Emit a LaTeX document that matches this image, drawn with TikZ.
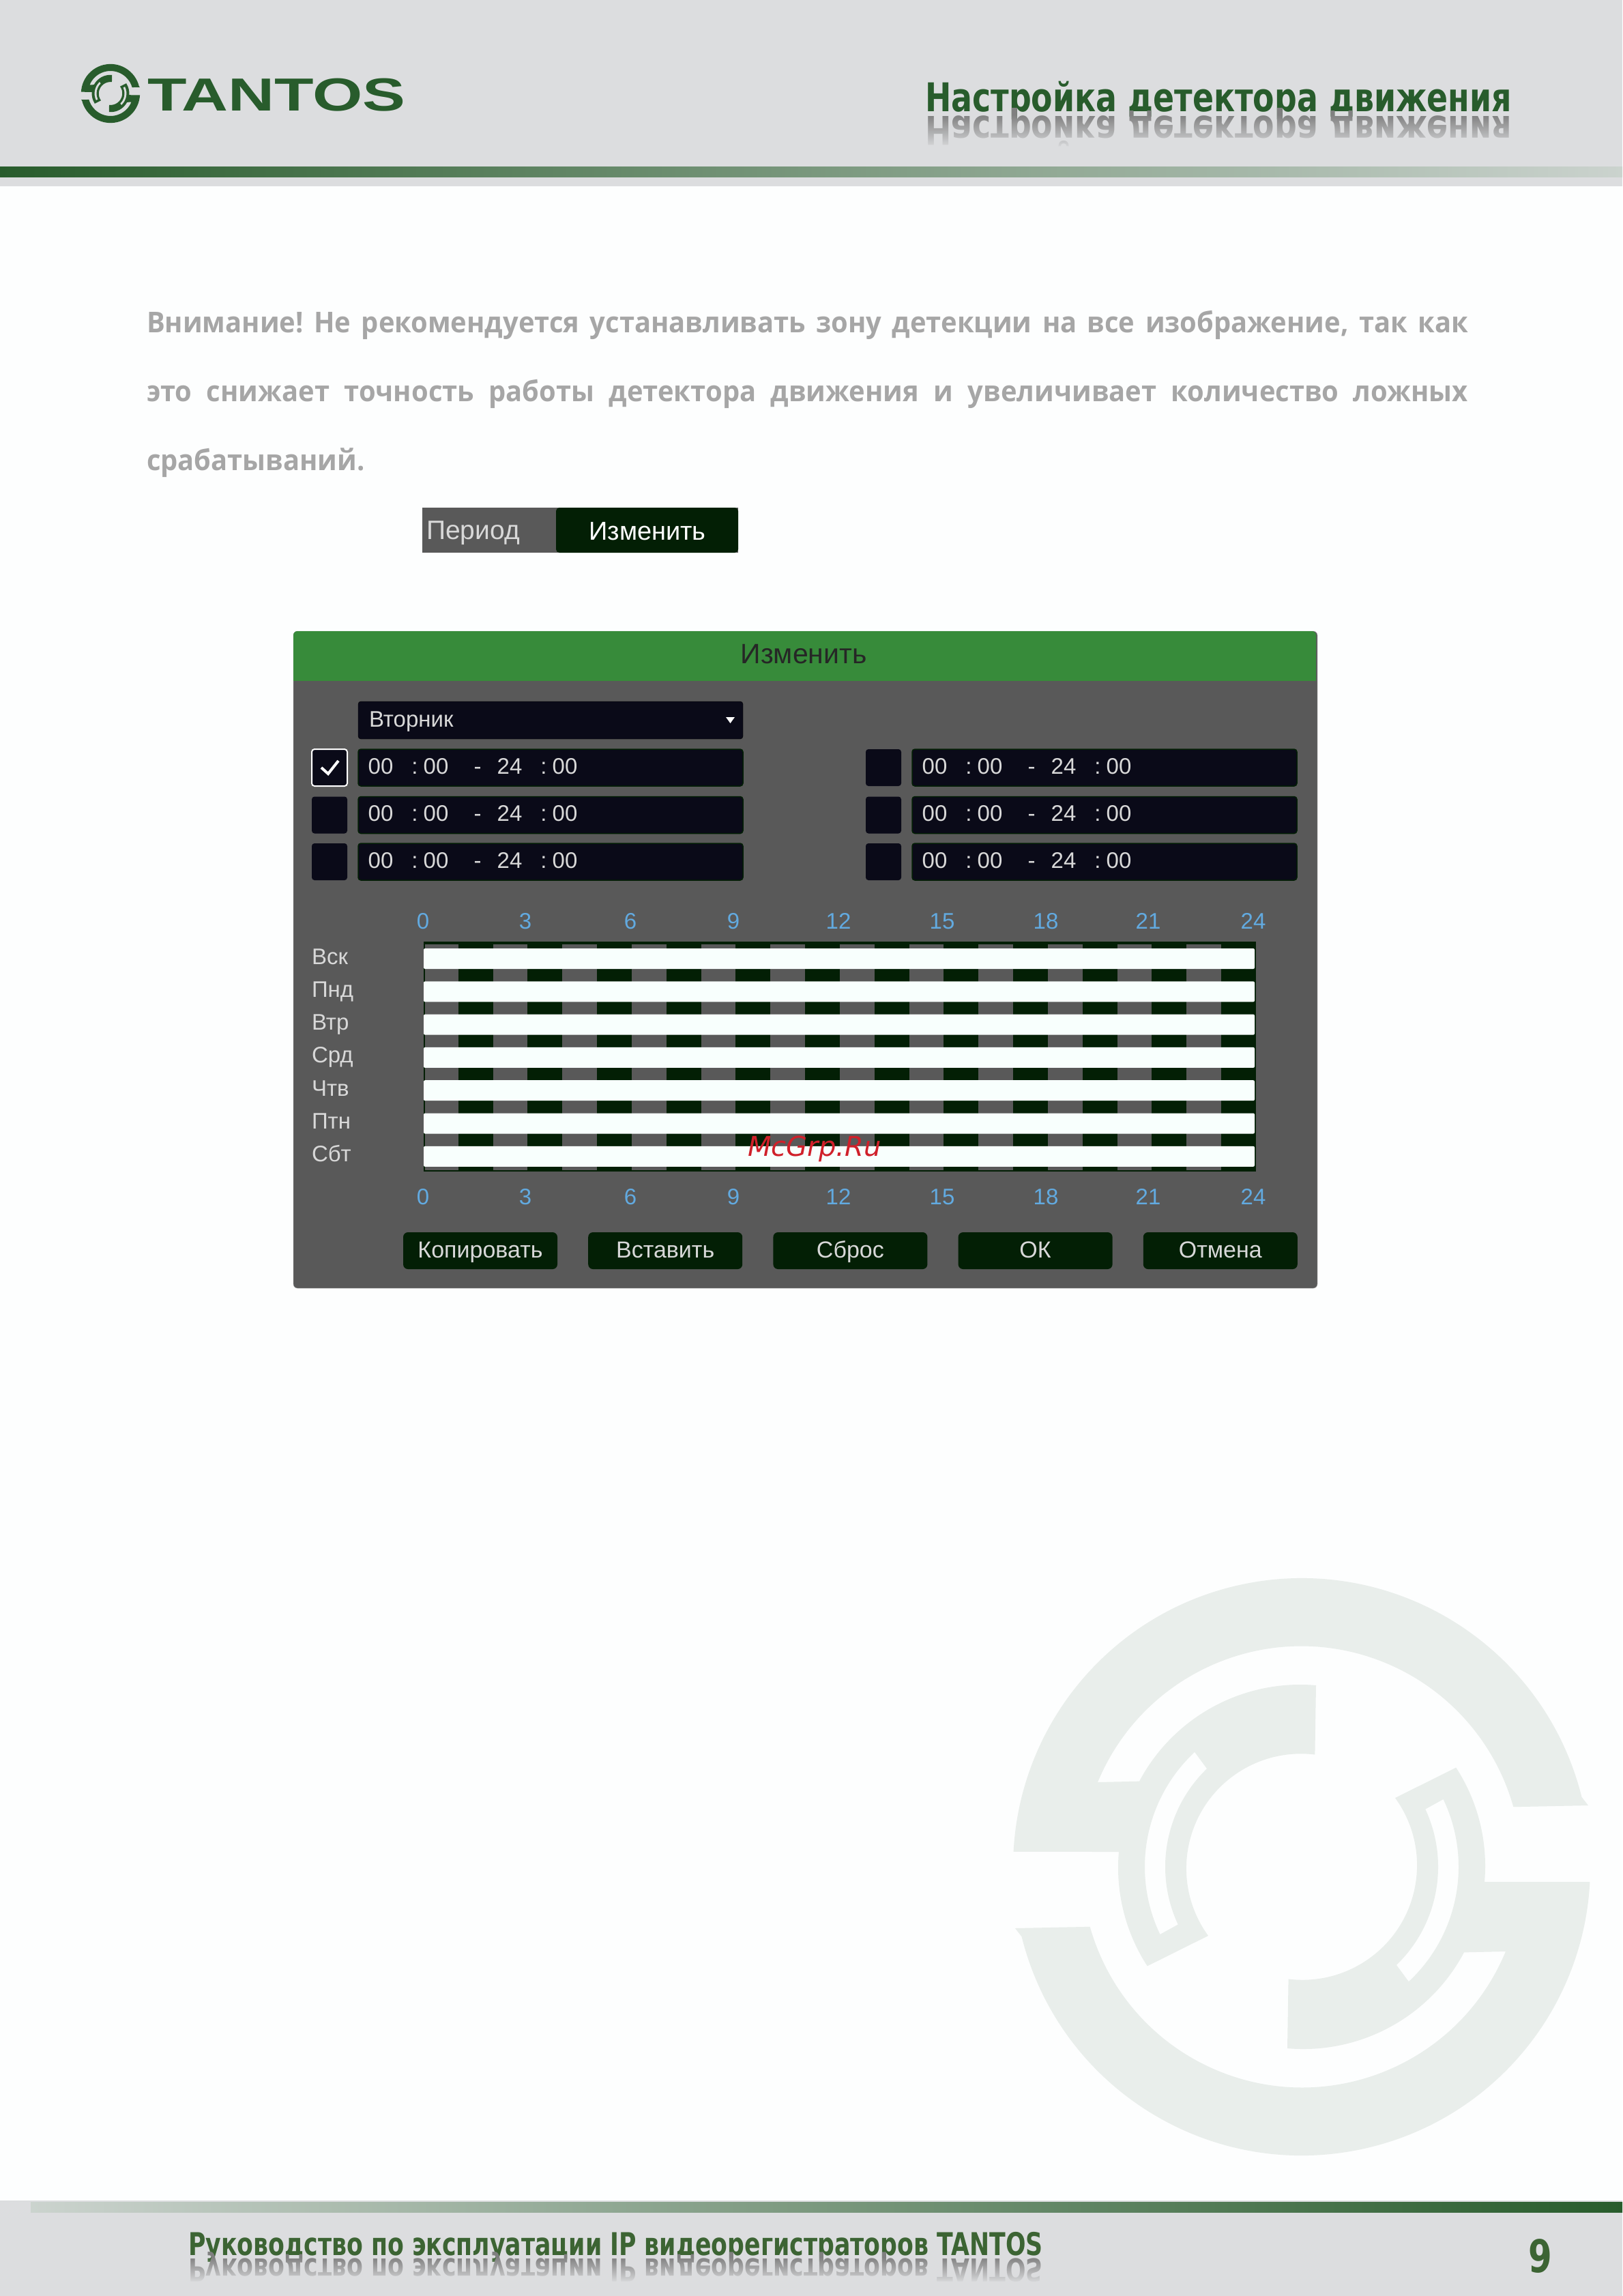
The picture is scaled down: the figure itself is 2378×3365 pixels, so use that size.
\documentclass[tikz,border=0pt]{standalone}
\usepackage{fontspec}
\setmainfont{Liberation Sans}
\newfontfamily\bodyfont[FakeStretch=0.95]{Open Sans}
\newfontfamily\titlefont[FakeStretch=0.79]{DejaVu Sans}
\newfontfamily\footfont[FakeStretch=0.755]{DejaVu Sans}
\newfontfamily\logofont[FakeStretch=1.385]{Liberation Sans}
\newfontfamily\wmfont{DejaVu Sans}
\usetikzlibrary{fadings}
\definecolor{headgray}{HTML}{DCDDDF}
\definecolor{pagewhite}{HTML}{FDFEFE}
\definecolor{logogreen}{HTML}{285C2C}
\definecolor{barpale}{HTML}{CBD3CE}
\definecolor{footgreen}{HTML}{3C6433}
\definecolor{markpale}{HTML}{E9EEEB}
\definecolor{bodygray}{HTML}{A6A6A6}
\definecolor{dlggray}{HTML}{595959}
\definecolor{dlggreen}{HTML}{378B3A}
\definecolor{fieldnavy}{HTML}{0A0A18}
\definecolor{darkgreen}{HTML}{031F05}
\definecolor{hourblue}{HTML}{62AAE0}
\definecolor{barwhite}{HTML}{F8FFFD}
\definecolor{uitext}{HTML}{D8D8D8}
\definecolor{wmred}{HTML}{D0202A}
\begin{document}
\begin{tikzpicture}[x=1pt,y=-1pt,inner sep=0pt,outer sep=0pt,
field/.style={draw=darkgreen,fill=fieldnavy,rounded corners=4pt,line width=1.5pt},
navybox/.style={fill=fieldnavy,rounded corners=4pt},
uilabel/.style={anchor=base,font=\fontsize{33}{33}\selectfont,text=uitext},
hourlabel/.style={anchor=base,font=\fontsize{33}{33}\selectfont,text=hourblue},
btn/.style={fill=darkgreen,rounded corners=7pt,minimum width=226pt,minimum height=54pt},
btnlabel/.style={anchor=base,font=\fontsize{34}{34}\selectfont,text=uitext},
pics/tantosmark/.style={code={
\foreach \r in {0,180} {
\fill[rotate=\r,even odd rule,pic actions] (420,-90) -- (-14:423) arc[start angle=-14,end angle=-177,radius=423]
 -- (-268,-22) arc[start angle=185,end angle=147,radius=265] -- (-137,101)
 arc[start angle=144,end angle=277,radius=168] -- (21,-266)
 arc[start angle=275,end angle=208,radius=267] -- (-299,-124)
 arc[start angle=202.5,end angle=344.3,radius=323] -- cycle
 (227:230) arc[start angle=227,end angle=154.5,radius=230] -- (155:200)
 arc[start angle=155,end angle=226,radius=200] -- cycle;
}}}]
\useasboundingbox (0,0) rectangle (2378,3365);
\fill[pagewhite] (0,0) rectangle (2378,3365);

% header
\fill[headgray] (0,0) rectangle (2378,273);
\shade[left color=logogreen,right color=barpale] (0,244) rectangle (2378,259);
\pic[fill=logogreen,scale=.102] at (162,137) {tantosmark={}};
\node[anchor=base west,font=\logofont\bfseries\fontsize{68}{68}\selectfont,text=logogreen] (logotext) at (216,162) {TANTOS};
\node[anchor=base west,font=\titlefont\bfseries\fontsize{58}{58}\selectfont,text=logogreen] (title) at (1356,163) {Настройка детектора движения};
\node[anchor=base west,font=\titlefont\bfseries\fontsize{58}{58}\selectfont,text=gray] (titlemirror) at (1356,170) {\scalebox{1}[-1]{Настройка детектора движения}};
\fill[headgray,path fading=north] (1340,168) rectangle (2300,218);

% warning text
\node[anchor=north west,text width=1937pt,align=justify,font=\bodyfont\bfseries\fontsize{42}{101}\selectfont,text=bodygray] (warning) at (215,455)
{\frenchspacing Внимание! Не рекомендуется устанавливать зону детекции на все изображение, так как\linebreak это снижает точность работы детектора движения и увеличивает количество ложных\linebreak срабатываний.};

% period row
\fill[dlggray] (619,744) rectangle (1082,810);
\fill[darkgreen,rounded corners=5pt] (815,744) rectangle (1082,810);
\node[anchor=base west,font=\fontsize{39}{39}\selectfont,text=uitext] (period) at (625,790) {Период};
\node[anchor=base,font=\fontsize{38}{38}\selectfont,text=white] (change) at (949,791) {Изменить};

% dialog
\fill[dlggray,draw=gray!60,rounded corners=6pt] (430,925) rectangle (1931,1888);
\fill[dlggreen,rounded corners=6pt] (430,925) rectangle (1929,960);
\fill[dlggreen] (430,940) rectangle (1929,998);
\node[font=\fontsize{41}{41}\selectfont,text=black!85] (dlgtitle) at (1178,959) {Изменить};

\draw[navybox] (525,1028) rectangle (1089,1083);
\node[uilabel,anchor=base west] (weekday) at (541,1065) {Вторник};
\fill[white] (1064,1051) -- (1077,1051) -- (1070.5,1060) -- cycle;

\foreach \cx in {0,812} {
\foreach \ry [count=\i] in {1098,1167.5,1236} {
\fill[fieldnavy,rounded corners=4pt] (457+\cx,\ry) rectangle (509+\cx,\ry+54);
\draw[field] (525+\cx,\ry) rectangle (1089+\cx,\ry+54);
\foreach \tx/\tt in {558/00,608/:,639/00,700/-,747/24,797/:,828/00}
 \node[uilabel] (t\cx-\i-\tx) at (\tx+\cx,\ry+36) {\tt};
}}
\draw[white,line width=2pt,rounded corners=4pt] (457,1098) rectangle (509,1152);
\draw[white,line width=4pt] (471,1125) -- (481,1134) -- (496,1115);

% hours
\foreach \h/\px in {0/620,3/770,6/924,9/1075,12/1229,15/1381,18/1533,21/1683,24/1837} {
\node[hourlabel] (hourtop\h) at (\px,1361) {\h};
\node[hourlabel] (hourbot\h) at (\px,1765) {\h};
}

% schedule grid
\fill[darkgreen] (621,1380) rectangle (1841,1717);
\foreach \h in {0,2,...,22}
 \fill[dlggray] (621+50.83*\h,1384) rectangle (621+50.83*\h+50.83,1715);
\fill[darkgreen] (621,1380) rectangle (623,1717);
\foreach \d [count=\i from 0] in {Вск,Пнд,Втр,Срд,Чтв,Птн,Сбт} {
\fill[barwhite,rounded corners=2pt] (621,1390+48.3*\i) rectangle (1839,1420+48.3*\i);
\node[uilabel,anchor=base west] (day\i) at (457,1413+48.3*\i) {\d};
}
\node[font=\wmfont\itshape\fontsize{40}{40}\selectfont,text=wmred] (mcgrp) at (1194,1684) {McGrp.Ru};

% buttons
\foreach \b [count=\i from 0] in {Копировать,Вставить,Сброс,ОК,Отмена} {
\node[btn] (btn\i) at (704+271.2*\i,1833) {};
\node[btnlabel] (btntext\i) at (704+271.2*\i,1843) {\b};
}

% footer
\fill[headgray] (0,3225) rectangle (2378,3365);
\shade[left color=barpale,right color=logogreen] (45,3227) rectangle (2378,3242);
\node[anchor=base west,font=\footfont\bfseries\fontsize{46}{46}\selectfont,text=footgreen] (manual) at (276,3305) {Руководство по эксплуатации IP видеорегистраторов TANTOS};
\node[anchor=base west,font=\footfont\bfseries\fontsize{46}{46}\selectfont,text=gray] (manualmirror) at (276,3310) {\scalebox{1}[-1]{Руководство по эксплуатации IP видеорегистраторов TANTOS}};
\fill[headgray,path fading=north] (260,3308) rectangle (1560,3346);
\node[font=\footfont\bfseries\fontsize{66}{66}\selectfont,text=footgreen] (pagenum) at (2258,3306) {9};

% watermark
\pic[fill=markpale] at (1908,2736) {tantosmark={}};
\end{tikzpicture}
\end{document}
